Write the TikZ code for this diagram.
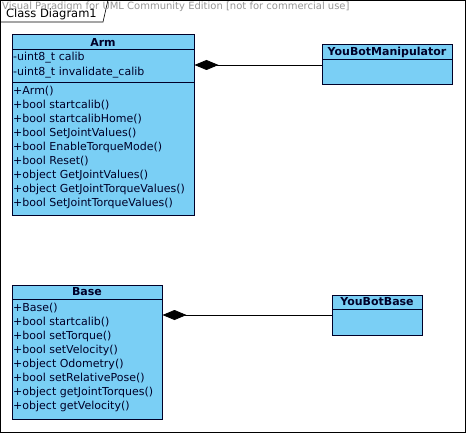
\documentclass[tikz,border=0pt]{standalone}
\usepackage{fontspec}
\setmainfont{DejaVu Sans}
\usetikzlibrary{arrows.meta}

\definecolor{classfill}{RGB}{122,207,245}
\definecolor{classline}{RGB}{0,0,40}
\definecolor{wmark}{RGB}{150,150,150}

\tikzset{
  classbox/.style={draw=classline, fill=classfill, line width=1pt, inner sep=0pt},
  member/.style={anchor=west, inner sep=0pt, text=classline, font=\fontsize{11}{12}\selectfont},
  title/.style={inner sep=0pt, text=classline, font=\fontsize{11}{12}\selectfont\bfseries},
  comp/.style={{Diamond[length=24pt,width=10pt,fill=black]}-, line width=0.8pt}
}

\begin{document}
\begin{tikzpicture}[x=1pt, y=-1pt]
    \useasboundingbox (0,0) rectangle (466,433);
    \draw[line width=0.8pt] (0.5,0.5) rectangle (465.5,432.5);

    % frame tab
    \draw[line width=0.6pt] (0,22) -- (103,22) -- (108,0);
    \node[anchor=west, inner sep=0pt, font=\fontsize{11.5}{13}\selectfont] (frame) at (6,14) {Class Diagram1};
    \node[anchor=west, inner sep=0pt, text=wmark, font=\fontsize{10}{11}\selectfont] (wm) at (2,7) {Visual Paradigm for UML Community Edition [not for commercial use]};

    % Arm
    \node[classbox, minimum width=182pt, minimum height=180pt] (arm) at (103,125) {};
    \draw[classline, line width=0.8pt] (12,49) -- (194,49);
    \draw[classline, line width=0.8pt] (12,82) -- (194,82);
    \node[title] (armname) at (103,42) {Arm};
    \node[member] (armattr1) at (13,58) {-uint8\_t calib};
    \node[member] (armattr2) at (13,73) {-uint8\_t invalidate\_calib};
    \foreach \op [count=\i from 0] in {+Arm(), +bool startcalib(), +bool startcalibHome(),
        +bool SetJointValues(), +bool EnableTorqueMode(), +bool Reset(),
        +object GetJointValues(), +object GetJointTorqueValues(), +bool SetJointTorqueValues()}
      \node[member] (armop\i) at (13,91+14*\i) {\op};

    % YouBotManipulator
    \node[classbox, minimum width=130pt, minimum height=40pt] (manip) at (387,65) {};
    \draw[classline, line width=0.8pt] (322,59) -- (452,59);
    \node[title] (manipname) at (387,52) {YouBotManipulator};

    % Base
    \node[classbox, minimum width=150pt, minimum height=134pt] (base) at (87,352) {};
    \draw[classline, line width=0.8pt] (12,299) -- (162,299);
    \node[title] (basename) at (87,292) {Base};
    \foreach \op [count=\i from 0] in {+Base(), +bool startcalib(), +bool setTorque(),
        +bool setVelocity(), +object Odometry(), +bool setRelativePose(),
        +object getJointTorques(), +object getVelocity()}
      \node[member] (baseop\i) at (13,308+14*\i) {\op};

    % YouBotBase
    \node[classbox, minimum width=90pt, minimum height=40pt] (ybase) at (377,315) {};
    \draw[classline, line width=0.8pt] (332,309) -- (422,309);
    \node[title] (ybasename) at (377,302) {YouBotBase};

    % compositions
    \draw[comp] (arm.east |- manip.west) -- (manip.west);
    \draw[comp] (base.east |- ybase.west) -- (ybase.west);
\end{tikzpicture}
\end{document}
